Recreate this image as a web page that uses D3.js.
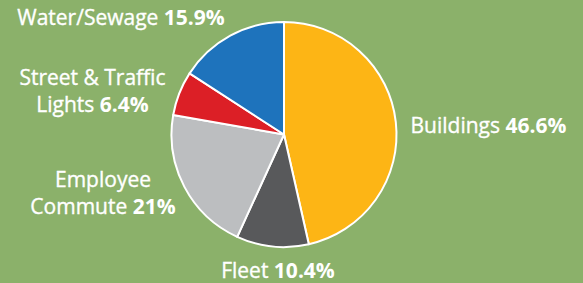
<!DOCTYPE html>
<html><head><meta charset="utf-8">
<script src="https://cdn.jsdelivr.net/npm/d3@7"></script>
<style>
html,body{margin:0;padding:0;background:#8BB16A;}
svg{display:block;}
text{font-family:"Open Sans",sans-serif;fill:#fff;}
</style></head><body>
<svg id="c" width="583" height="283"></svg>
<script>
const categories = ["Buildings", "Fleet", "Employee Commute", "Street & Traffic Lights", "Water/Sewage"];
const values = [46.6, 10.4, 21, 6.4, 15.9];
const valueLabels = ["46.6%", "10.4%", "21%", "6.4%", "15.9%"];
const colors = ["#FDB515", "#58595B", "#BCBEC0", "#DC1F26", "#1E73BC"];
const labelLines = [["Buildings"], ["Fleet"], ["Employee", "Commute"], ["Street & Traffic", "Lights"], ["Water/Sewage"]];

const svg = d3.select("#c");
const W = 583, H = 283;
svg.append("rect").attr("width", W).attr("height", H).attr("fill", "#8BB16A");

const cx = 284, cy = 134.5, R = 112.5;
const pie = d3.pie().sort(null).value(d => d.v);
const arc = d3.arc().innerRadius(0).outerRadius(R);
const data = categories.map((c, i) => ({c, v: values[i], i}));
const arcs = pie(data);

const g = svg.append("g").attr("transform", `translate(${cx},${cy})`);
g.selectAll("path").data(arcs).enter().append("path")
  .attr("d", arc)
  .attr("fill", d => colors[d.data.i])
  .attr("stroke", "#fff").attr("stroke-width", 2).attr("stroke-linejoin", "round");

// label anchor positions (center x, baseline of last line)
const labelPos = [[488.5, 133], [278, 278], [103, 214], [92.5, 112], [121, 25]];
const lineH = 27;
arcs.forEach((a, k) => {
  const i = a.data.i;
  const lines = labelLines[i];
  const [lx, ly] = labelPos[i];
  lines.forEach((ln, j) => {
    const t = svg.append("text")
      .attr("x", lx)
      .attr("y", ly - (lines.length - 1 - j) * lineH)
      .attr("text-anchor", "middle")
      .attr("font-size", 21)
      .attr("stroke", "#fff").attr("stroke-width", 0.35);
    t.append("tspan").text(ln);
    if (j === lines.length - 1) {
      t.append("tspan").attr("font-weight", "bold").attr("stroke-width", 0).text(" " + valueLabels[i]);
    }
  });
});
</script>
</body></html>
